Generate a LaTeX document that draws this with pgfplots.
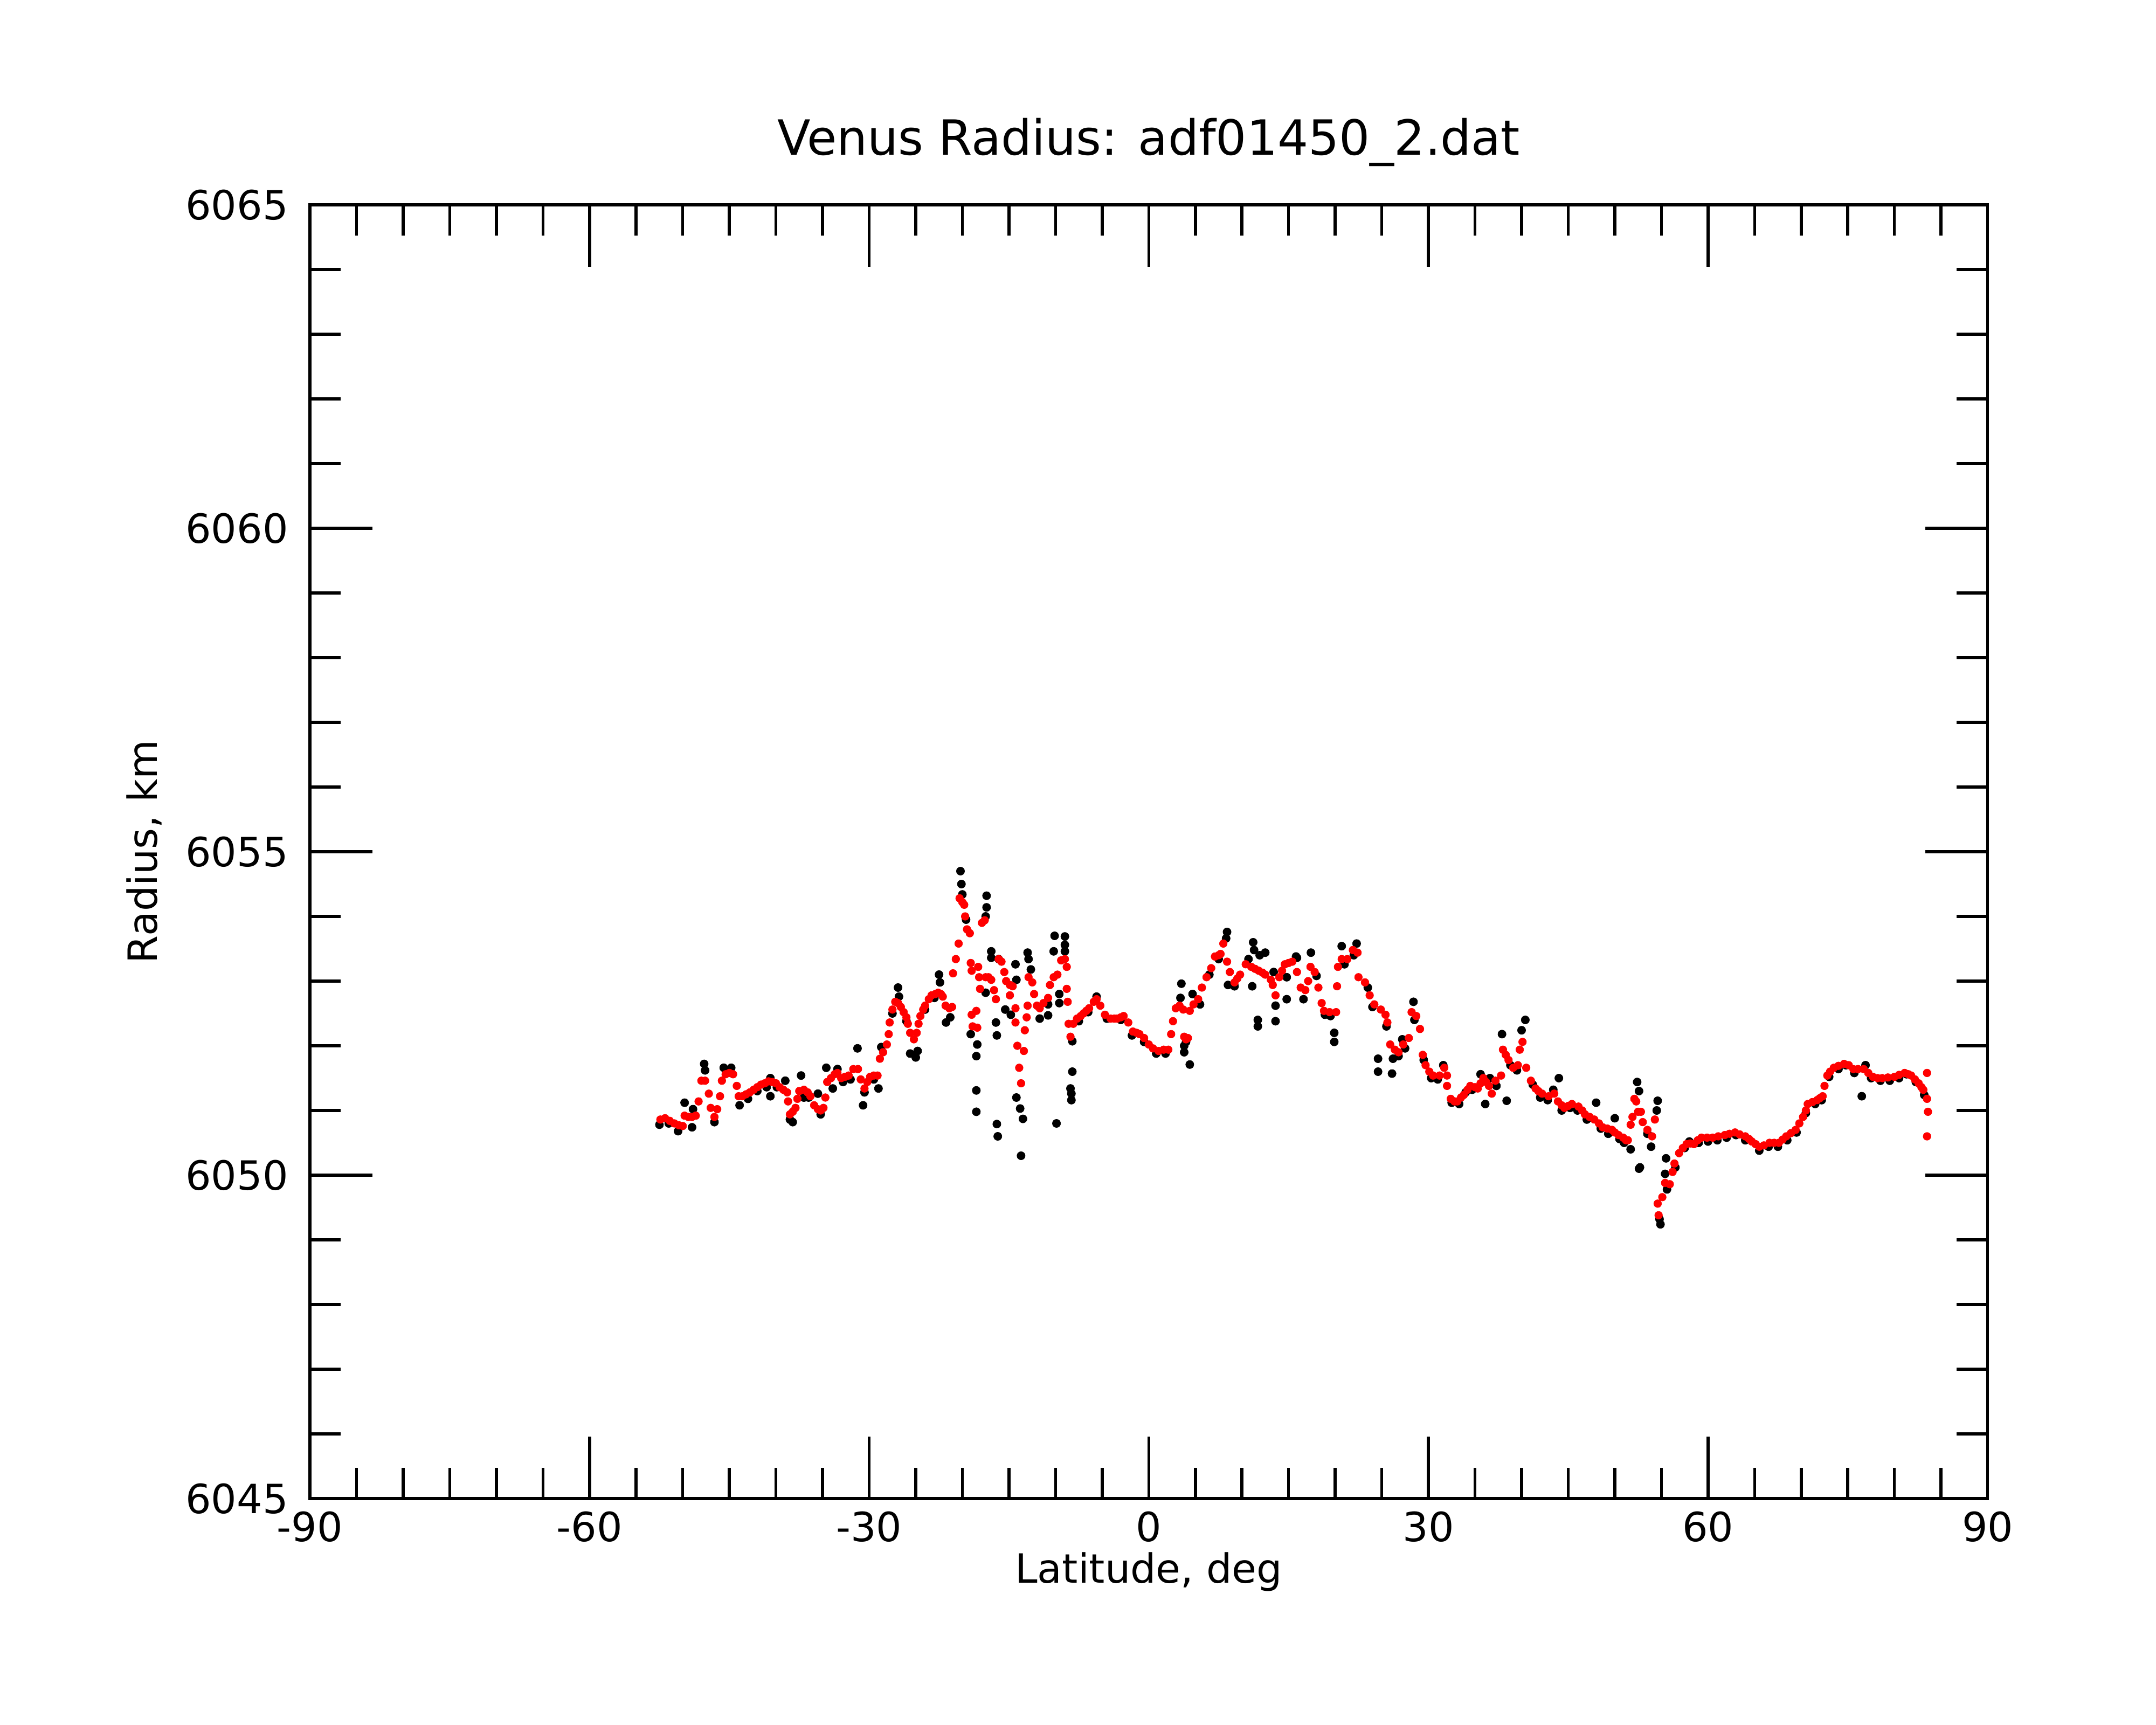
\documentclass[border=0pt]{standalone}
\usepackage{fontspec}
\setmainfont{DejaVu Sans}
\usepackage{pgfplots}
\pgfplotsset{compat=1.18}
\begin{document}
\begin{tikzpicture}
\useasboundingbox (-1.15in,-0.84in) rectangle (6.85in,5.56in);
\begin{axis}[
  at={(0,0)}, anchor=south west,
  width=6.225in, height=4.80in, scale only axis,
  xmin=-90, xmax=90, ymin=6045, ymax=6065,
  xtick={-90,-60,-30,0,30,60,90},
  xticklabels={-90,-60,-30,0,30,60,90},
  ytick={6045,6050,6055,6060,6065},
  yticklabels={6045,6050,6055,6060,6065},
  minor x tick num=5, minor y tick num=4,
  xtick pos=both, ytick pos=both,
  xticklabel pos=lower, yticklabel pos=left,
  tick align=inside,
  major tick length=16.7pt, minor tick length=8.3pt,
  axis line style={line width=0.8pt},
  every tick/.style={black, line width=0.8pt},
  /pgf/number format/assume math mode=true,
  tick label style={font=\fontsize{10.8}{13}\selectfont},
  yticklabel style={xshift=-2.3pt},
  title={Venus Radius: adf01450\_2.dat},
  every axis title/.style={at={(axis description cs:0.5,1)}, yshift=13.3pt, anchor=base, font=\fontsize{13}{15}\selectfont},
  xlabel={Latitude, deg},
  every axis x label/.style={at={(axis description cs:0.5,0)}, yshift=-22.6pt, anchor=base, font=\fontsize{10.8}{13}\selectfont},
  ylabel={Radius, km},
  every axis y label/.style={at={(axis description cs:0,0.5)}, xshift=-0.566in, rotate=90, anchor=base, font=\fontsize{10.8}{13}\selectfont},
]
% raw radius (black)
\addplot[only marks, mark=*, mark size=1.1pt, black, mark options={line width=0.1pt}] table {
x y
-52.5 6050.78
-51.5 6050.80
-50.5 6050.68
-49.8 6051.12
-49.0 6050.74
-48.9 6051.02
-47.7 6051.72
-47.6 6051.62
-46.6 6050.82
-45.6 6051.66
-44.8 6051.66
-43.9 6051.08
-43.0 6051.18
-42.0 6051.30
-41.0 6051.36
-40.6 6051.22
-40.6 6051.50
-39.9 6051.36
-39.0 6051.46
-38.2 6050.82
-38.5 6050.86
-37.3 6051.54
-37.0 6051.20
-36.5 6051.20
-35.5 6051.26
-35.2 6050.94
-34.6 6051.66
-33.9 6051.34
-33.4 6051.64
-32.8 6051.44
-32.0 6051.48
-31.25 6051.96
-30.65 6051.08
-30.5 6051.28
-29.0 6051.34
-29.5 6051.48
-28.7 6051.98
-27.5 6052.50
-26.9 6052.90
-26.8 6052.76
-26.0 6052.38
-25.6 6051.88
-25.0 6051.82
-24.8 6051.92
-24.0 6052.56
-23.0 6052.74
-22.5 6053.10
-22.4 6052.98
-21.75 6052.36
-21.3 6052.44
-20.2 6054.70
-20.1 6054.50
-20.0 6054.34
-19.6 6053.95
-19.1 6052.18
-18.4 6052.02
-18.5 6051.84
-18.5 6051.31
-18.5 6050.98
-17.4 6054.32
-17.4 6054.14
-17.5 6054.00
-16.9 6053.46
-16.9 6053.36
-16.1 6053.34
-17.5 6052.82
-16.4 6052.36
-16.3 6052.16
-16.3 6050.79
-16.2 6050.60
-15.4 6052.56
-14.8 6052.48
-14.3 6053.26
-14.2 6053.02
-14.2 6051.20
-13.8 6051.03
-13.5 6050.87
-13.7 6050.30
-13.0 6053.44
-12.9 6053.34
-12.65 6053.18
-11.7 6052.42
-10.8 6052.47
-10.8 6052.64
-10.1 6053.70
-9.0 6053.69
-9.0 6053.56
-9.0 6053.46
-10.2 6053.46
-9.6 6052.80
-9.6 6052.66
-9.9 6050.80
-8.2 6052.07
-8.2 6051.60
-8.4 6051.34
-8.3 6051.26
-8.3 6051.16
-7.5 6052.38
-6.5 6052.52
-5.6 6052.76
-4.5 6052.42
-3.0 6052.40
-1.8 6052.16
-0.5 6052.06
0.8 6051.88
1.8 6051.88
3.5 6052.96
3.4 6052.74
4.7 6052.80
4.4 6051.71
3.8 6051.90
3.8 6052.00
4.0 6052.06
5.5 6052.64
6.5 6053.10
7.5 6053.34
8.4 6053.76
8.3 6053.66
8.5 6052.94
9.2 6052.92
10.7 6053.34
11.2 6053.60
11.3 6053.48
11.9 6053.40
12.5 6053.44
11.7 6052.40
11.7 6052.30
11.1 6052.92
13.4 6053.14
13.6 6052.62
13.6 6052.38
14.8 6053.06
14.8 6052.72
16.6 6052.72
15.9 6053.36
17.4 6053.44
15.8 6053.38
18.0 6053.08
18.9 6052.48
19.9 6052.20
19.9 6052.06
19.5 6052.46
20.7 6053.54
21.0 6053.26
22.3 6053.58
22.0 6053.40
23.5 6052.90
24.0 6052.60
24.6 6051.80
24.6 6051.60
25.5 6052.30
26.1 6051.57
26.2 6051.80
26.8 6051.84
27.2 6052.10
27.5 6051.96
28.4 6052.68
28.5 6052.40
29.5 6051.78
30.3 6051.50
31.0 6051.48
31.6 6051.70
32.5 6051.12
33.3 6051.10
34.0 6051.28
34.7 6051.32
35.6 6051.56
36.1 6051.10
36.6 6051.50
37.3 6051.38
37.9 6052.18
38.4 6051.15
38.8 6051.70
39.5 6051.62
40.0 6052.24
40.4 6052.40
41.2 6051.40
42.0 6051.20
42.8 6051.16
43.4 6051.32
44.0 6051.50
44.3 6051.00
45.2 6051.04
46.0 6051.00
47.0 6050.86
48.0 6051.12
48.5 6050.72
49.3 6050.64
50.0 6050.88
50.5 6050.56
51.0 6050.50
51.7 6050.40
52.4 6051.44
52.6 6051.30
52.6 6050.10
52.7 6050.12
53.5 6050.64
53.9 6050.44
54.6 6051.15
54.5 6051.00
54.9 6049.24
54.8 6049.32
55.5 6050.26
55.4 6050.02
55.6 6049.78
56.5 6050.12
57.5 6050.42
58.0 6050.52
59.0 6050.50
60.0 6050.52
61.0 6050.54
62.0 6050.58
63.0 6050.62
64.0 6050.54
65.5 6050.38
66.5 6050.44
67.5 6050.44
68.5 6050.54
69.5 6050.66
70.5 6050.96
71.5 6051.10
72.2 6051.16
73.0 6051.52
74.0 6051.64
74.8 6051.70
75.7 6051.58
76.5 6051.22
76.9 6051.70
77.5 6051.50
78.5 6051.46
79.5 6051.46
80.5 6051.50
81.3 6051.56
82.3 6051.44
83.2 6051.24
};
% smoothed radius (red)
\addplot[only marks, mark=*, mark size=1.05pt, red, mark options={line width=0.1pt}] table {
x y
-52.4 6050.86
-51.9 6050.88
-51.4 6050.84
-50.9 6050.80
-50.4 6050.77
-50.0 6050.76
-49.8 6050.92
-49.4 6050.90
-49.0 6050.90
-48.6 6050.92
-48.3 6051.14
-48.0 6051.46
-47.6 6051.46
-47.2 6051.26
-47.0 6051.04
-46.6 6050.90
-46.3 6051.02
-46.0 6051.22
-45.8 6051.46
-45.4 6051.56
-45.0 6051.58
-44.6 6051.56
-44.2 6051.38
-44.0 6051.22
-43.6 6051.22
-43.2 6051.25
-42.8 6051.28
-42.4 6051.32
-42.0 6051.36
-41.6 6051.40
-41.2 6051.42
-40.8 6051.45
-40.4 6051.44
-40.0 6051.42
-39.6 6051.36
-39.2 6051.32
-38.8 6051.28
-38.7 6051.14
-38.5 6050.94
-38.2 6050.98
-37.9 6051.04
-37.7 6051.18
-37.5 6051.30
-37.0 6051.32
-36.6 6051.28
-36.3 6051.22
-35.9 6051.08
-35.5 6051.02
-35.2 6051.00
-34.9 6051.04
-34.7 6051.20
-34.5 6051.44
-34.1 6051.50
-33.7 6051.56
-33.4 6051.58
-33.0 6051.50
-32.6 6051.52
-32.2 6051.54
-31.7 6051.64
-31.2 6051.64
-30.9 6051.48
-30.5 6051.34
-30.2 6051.44
-29.9 6051.52
-29.5 6051.54
-29.1 6051.54
-28.85 6051.80
-28.5 6051.90
-28.1 6052.02
-27.9 6052.18
-27.8 6052.36
-27.5 6052.56
-27.2 6052.68
-26.9 6052.66
-26.6 6052.60
-26.3 6052.52
-26.0 6052.44
-25.85 6052.34
-25.6 6052.20
-25.2 6052.10
-24.9 6052.20
-24.7 6052.34
-24.5 6052.46
-24.2 6052.56
-24.0 6052.62
-23.6 6052.72
-23.3 6052.78
-22.9 6052.80
-22.6 6052.82
-22.3 6052.80
-22.1 6052.76
-21.8 6052.62
-21.4 6052.58
-21.1 6052.60
-21.0 6053.12
-20.7 6053.34
-20.4 6053.58
-20.3 6054.28
-20.0 6054.22
-19.8 6054.18
-19.7 6054.00
-19.5 6053.80
-19.2 6053.74
-19.1 6053.28
-19.0 6053.16
-19.0 6052.48
-18.9 6052.30
-18.5 6052.54
-18.4 6052.28
-18.3 6053.22
-18.2 6053.06
-18.1 6052.88
-17.9 6053.90
-17.6 6053.94
-17.5 6053.06
-17.2 6053.06
-16.9 6053.02
-16.6 6052.86
-16.4 6052.72
-16.1 6053.34
-15.8 6053.30
-15.5 6053.14
-15.3 6053.00
-14.9 6052.94
-14.9 6052.78
-14.6 6052.92
-14.3 6052.58
-14.3 6052.36
-14.1 6052.00
-13.9 6051.66
-13.7 6051.42
-13.4 6051.92
-13.3 6052.24
-13.1 6052.44
-13.0 6052.62
-12.9 6053.06
-12.5 6052.98
-12.3 6052.80
-12.0 6052.62
-11.7 6052.58
-11.3 6052.66
-10.8 6052.74
-10.6 6052.94
-10.2 6053.06
-9.8 6053.10
-9.4 6053.32
-9.0 6053.34
-8.8 6053.22
-8.8 6052.88
-8.7 6052.68
-8.6 6052.34
-8.4 6052.14
-8.1 6052.34
-7.7 6052.42
-7.3 6052.46
-7.0 6052.50
-6.7 6052.54
-6.4 6052.58
-5.9 6052.68
-5.6 6052.72
-5.2 6052.62
-4.7 6052.48
-4.1 6052.42
-3.7 6052.42
-3.4 6052.42
-3.0 6052.44
-2.7 6052.46
-2.2 6052.36
-1.7 6052.22
-1.3 6052.20
-1.0 6052.18
-0.5 6052.12
0.0 6052.02
0.45 6051.96
1.05 6051.92
1.6 6051.94
2.1 6051.94
2.4 6052.18
2.6 6052.38
2.9 6052.58
3.3 6052.62
3.7 6052.56
3.8 6052.14
4.0 6052.10
4.2 6052.12
4.4 6052.54
4.8 6052.64
5.3 6052.72
5.7 6052.90
6.2 6053.06
6.7 6053.20
7.1 6053.38
7.5 6053.40
7.7 6053.42
8.0 6053.58
8.4 6053.30
8.7 6053.14
9.2 6052.98
9.5 6053.04
9.8 6053.10
10.4 6053.26
11.0 6053.22
11.4 6053.19
11.8 6053.16
12.2 6053.13
12.5 6053.10
13.1 6053.02
13.3 6052.94
13.6 6052.78
14.0 6053.06
14.3 6053.16
14.6 6053.26
15.0 6053.28
15.4 6053.30
15.9 6053.14
16.3 6052.90
16.8 6052.86
17.1 6053.00
17.35 6053.22
17.8 6053.14
18.2 6052.90
18.55 6052.66
18.8 6052.54
19.4 6052.52
20.1 6052.52
20.2 6052.92
20.3 6053.22
20.7 6053.34
21.3 6053.34
21.9 6053.48
22.4 6053.44
22.5 6053.06
23.2 6052.98
23.7 6052.78
24.2 6052.64
24.9 6052.56
25.4 6052.48
25.6 6052.36
25.9 6052.02
26.4 6051.94
26.8 6051.90
27.3 6052.02
27.9 6052.12
28.2 6052.52
28.7 6052.46
29.1 6052.26
29.4 6051.86
29.7 6051.70
30.1 6051.60
30.5 6051.54
31.2 6051.54
31.7 6051.66
32.0 6051.54
32.0 6051.38
32.4 6051.18
32.8 6051.14
33.1 6051.14
33.5 6051.20
33.8 6051.24
34.2 6051.32
34.5 6051.38
35.0 6051.36
35.3 6051.34
35.6 6051.42
35.9 6051.50
36.2 6051.44
36.5 6051.38
36.8 6051.26
37.2 6051.46
37.8 6051.54
38.0 6051.94
38.3 6051.86
38.6 6051.78
39.1 6051.66
39.6 6051.70
39.8 6051.94
40.1 6052.06
40.5 6051.66
41.0 6051.46
41.5 6051.34
41.8 6051.30
42.2 6051.26
42.9 6051.22
43.5 6051.26
43.9 6051.14
44.3 6051.08
44.6 6051.04
45.0 6051.07
45.4 6051.10
46.1 6051.06
46.5 6051.00
46.8 6050.94
47.3 6050.90
47.8 6050.86
48.3 6050.80
48.7 6050.74
49.2 6050.72
49.7 6050.70
50.0 6050.66
50.4 6050.62
50.9 6050.58
51.2 6050.54
51.4 6050.54
51.7 6050.78
51.9 6050.90
52.1 6051.18
52.3 6051.14
52.5 6050.98
52.8 6050.98
53.0 6050.82
53.5 6050.70
54.0 6050.60
54.3 6050.86
54.6 6049.56
54.7 6049.38
55.1 6049.66
55.4 6049.88
55.9 6049.86
56.2 6050.05
56.4 6050.18
56.9 6050.34
57.3 6050.42
57.7 6050.48
58.1 6050.49
58.5 6050.48
58.9 6050.54
59.3 6050.58
59.9 6050.58
60.5 6050.58
61.1 6050.60
61.8 6050.62
62.3 6050.64
62.9 6050.66
63.4 6050.63
64.0 6050.60
64.4 6050.56
64.7 6050.52
65.1 6050.48
65.5 6050.44
66.0 6050.46
66.6 6050.50
67.1 6050.50
67.6 6050.50
68.0 6050.55
68.4 6050.60
68.9 6050.65
69.4 6050.70
69.8 6050.80
70.2 6050.90
70.5 6051.00
70.7 6051.10
71.2 6051.13
71.7 6051.16
72.0 6051.19
72.3 6051.22
72.5 6051.38
72.8 6051.54
73.1 6051.60
73.5 6051.66
74.0 6051.69
74.6 6051.72
75.1 6051.70
75.6 6051.64
76.1 6051.64
76.7 6051.64
77.2 6051.58
77.7 6051.52
78.2 6051.50
78.7 6051.50
79.3 6051.51
80.0 6051.52
80.5 6051.55
81.1 6051.58
81.5 6051.56
81.8 6051.54
82.2 6051.48
82.6 6051.42
82.9 6051.36
83.1 6051.32
83.5 6051.58
83.5 6051.18
83.6 6050.98
83.5 6050.60
};
\end{axis}
\end{tikzpicture}
\end{document}
